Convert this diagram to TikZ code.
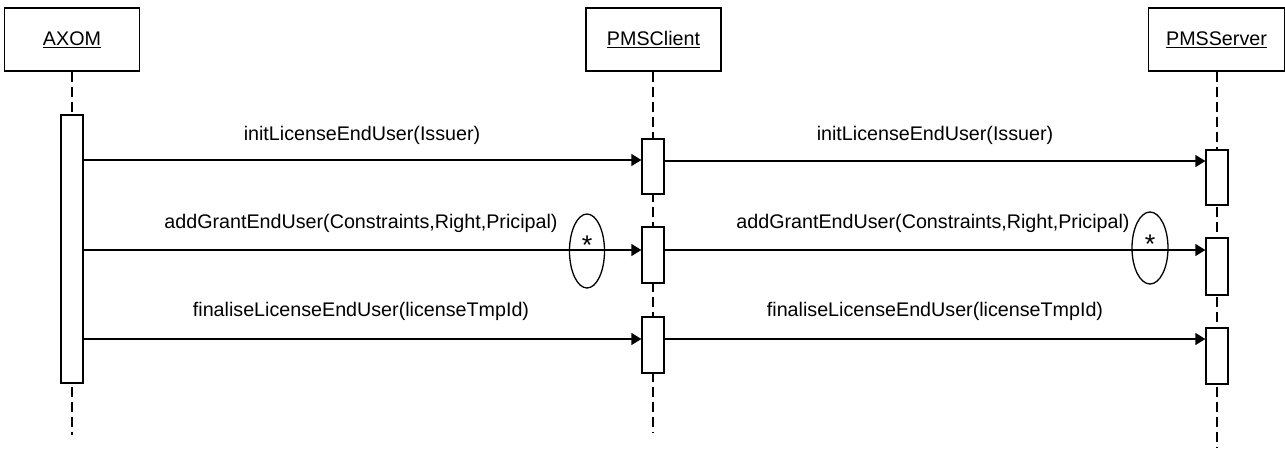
\documentclass[tikz,border=0pt]{standalone}
\usepackage{fontspec}
\setmainfont{Liberation Sans}
\usetikzlibrary{arrows.meta}
\begin{document}
\begin{tikzpicture}[x=1pt,y=-1pt,
  every node/.style={font=\fontsize{19.7}{23}\selectfont},
  header/.style={draw, line width=1.3pt, fill=white, minimum width=135pt, minimum height=63pt, inner sep=0pt},
  act/.style={draw, line width=1.3pt, fill=white, minimum width=22pt, inner sep=0pt},
  life/.style={line width=2.4pt, dash pattern=on 10pt off 5pt},
  msg/.style={line width=1.3pt, -{Triangle[length=10pt,width=12pt]}},
  lbl/.style={anchor=base, inner sep=0pt},
  star/.style={anchor=base, inner sep=0pt, font=\fontsize{27}{27}\selectfont}]
\useasboundingbox (0,0) rectangle (1285,448);

% headers
\node[header] (axh) at (72,39.5) {\underline{AXOM}};
\node[header] (clh) at (653.5,39.5) {\underline{PMSClient}};
\node[header, minimum width=136pt] (svh) at (1216.5,39.5) {\underline{PMSServer}};

% lifeline ends
\coordinate (axend) at (72,435);
\coordinate (clend) at (653,433);
\coordinate (svend) at (1217,448);
\draw[life] (axh.south) -- (axend);
\draw[life] (clh.south -| clend) -- (clend);
\draw[life] (svh.south -| svend) -- (svend);

% activation bars
\node[act, minimum height=268pt] (ax) at (72,249) {};
\node[act, minimum height=55pt] (c1) at (653,166.5) {};
\node[act, minimum height=56pt] (c2) at (653,255) {};
\node[act, minimum height=56pt] (c3) at (653,345) {};
\node[act, minimum height=55pt] (s1) at (1217,177.5) {};
\node[act, minimum height=57pt] (s2) at (1217,266.5) {};
\node[act, minimum height=56pt] (s3) at (1217,356) {};

% messages
\draw[msg] (ax.east |- 0,160) -- (c1.west |- 0,160);
\draw[msg] (c1.east |- 0,161) -- (s1.west |- 0,161);
\draw[msg] (ax.east |- 0,250) -- (c2.west |- 0,250);
\draw[msg] (c2.east |- 0,250) -- (s2.west |- 0,250);
\draw[msg] (ax.east |- 0,339) -- (c3.west |- 0,339);
\draw[msg] (c3.east |- 0,339) -- (s3.west |- 0,339);

% labels
\node[lbl] (l1) at (362,140) {initLicenseEndUser(Issuer)};
\node[lbl] (l2) at (935,140) {initLicenseEndUser(Issuer)};
\node[lbl] (l3) at (361,228) {addGrantEndUser(Constraints,Right,Pricipal)};
\node[lbl] (l4) at (933,228) {addGrantEndUser(Constraints,Right,Pricipal)};
\node[lbl] (l5) at (361,316) {finaliseLicenseEndUser(licenseTmpId)};
\node[lbl] (l6) at (935,316) {finaliseLicenseEndUser(licenseTmpId)};

% multiplicity marks
\draw[line width=1.3pt] (587,251) ellipse [x radius=17.5, y radius=37];
\node[star] (st1) at (587,254) {*};
\draw[line width=1.3pt] (1150,248) ellipse [x radius=18, y radius=36];
\node[star] (st2) at (1150,253) {*};
\end{tikzpicture}
\end{document}
